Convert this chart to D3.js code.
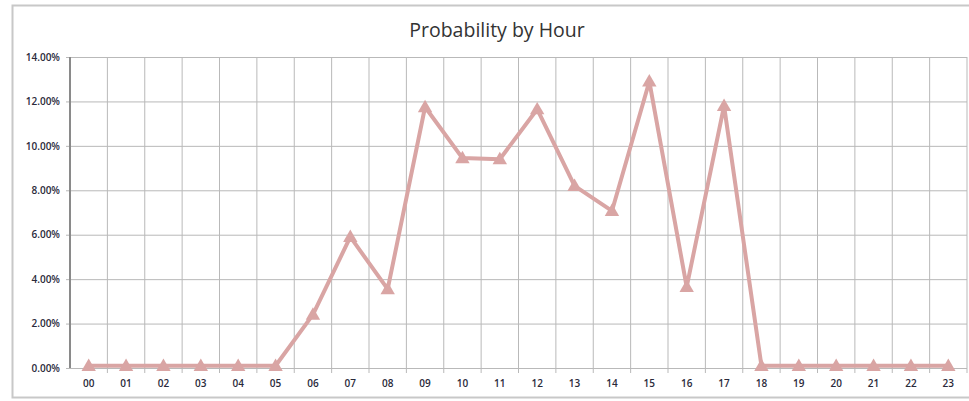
<!DOCTYPE html>
<html lang="en">
<head>
<meta charset="UTF-8">
<title>Probability by Hour</title>
<style>
html, body { margin: 0; padding: 0; background: #fff; }
#graph { width: 969px; height: 401px; }
.tick text { font-family: "Open Sans", "DejaVu Sans", sans-serif; font-size: 10px; font-weight: 600; fill: #2a2a3a; }
.valueLine { fill: none; stroke: #d9a5a4; stroke-width: 4; stroke-linejoin: round; }
.marker { fill: #d9a5a4; }
</style>
</head>
<body>
<div id="graph"></div>
<script src="https://d3js.org/d3.v7.min.js"></script>
<script>
// data
const hours = ["00","01","02","03","04","05","06","07","08","09","10","11",
               "12","13","14","15","16","17","18","19","20","21","22","23"];
const probability = [0.001,0.001,0.001,0.001,0.001,0.001,0.024,0.059,0.0355,0.1175,0.0945,0.094,
                     0.1165,0.082,0.0707,0.129,0.0365,0.118,0.001,0.001,0.001,0.001,0.001,0.001];
const yTicks = [0, 0.02, 0.04, 0.06, 0.08, 0.10, 0.12, 0.14];
const chartTitle = "Probability by Hour";

!(function(){
    const width = 969, height = 401;
    const margin = { top: 57, left: 70, bottom: 33, right: 2 };
    const chartWidth = width - margin.left - margin.right;
    const chartHeight = height - margin.top - margin.bottom;

    const svg = d3.select("#graph").append("svg")
        .attr("width", width).attr("height", height);

    // outer frame
    svg.append("rect")
        .attr("x", 12.5).attr("y", 5.5)
        .attr("width", 970).attr("height", 392)
        .attr("fill", "none").attr("stroke", "#c8c8c8").attr("stroke-width", 2);

    svg.append("text")
        .attr("x", 497).attr("y", 37)
        .attr("text-anchor", "middle")
        .attr("font-family", "'Open Sans', 'DejaVu Sans', sans-serif")
        .attr("font-size", 19.5)
        .attr("fill", "#333")
        .text(chartTitle);

    const chartLayer = svg.append("g")
        .attr("transform", `translate(${margin.left}, ${margin.top})`);

    const xScale = d3.scaleBand().domain(hours).range([0, chartWidth]);
    const yScale = d3.scaleLinear().domain([0, 0.14]).range([chartHeight, 0]);

    // horizontal gridlines + y axis labels
    const yAxis = d3.axisLeft(yScale)
        .tickValues(yTicks)
        .tickFormat(d3.format(".2%"))
        .tickSizeInner(-chartWidth - 4)
        .tickSizeOuter(0)
        .tickPadding(6);
    const yG = chartLayer.append("g")
        .attr("class", "axis y")
        .attr("transform", "translate(-4,0)")
        .call(yAxis);
    yG.select(".domain").remove();
    yG.selectAll(".tick line").attr("stroke", "#b9b9b9");
    yG.selectAll(".tick text").attr("x", -6);

    // vertical gridlines at category boundaries
    const bounds = hours.map(h => xScale(h)).concat([chartWidth]);
    chartLayer.append("g").selectAll("line")
        .data(bounds.slice(1))
        .join("line")
        .attr("x1", d => d).attr("x2", d => d)
        .attr("y1", 0).attr("y2", chartHeight + 5)
        .attr("stroke", "#b9b9b9");

    // x axis labels
    const xAxis = d3.axisBottom(xScale).tickSize(0).tickPadding(12);
    const xG = chartLayer.append("g")
        .attr("class", "axis x")
        .attr("transform", `translate(0, ${chartHeight})`)
        .call(xAxis);
    xG.select(".domain").remove();

    // y axis line
    chartLayer.append("line")
        .attr("x1", 0).attr("x2", 0)
        .attr("y1", 0).attr("y2", chartHeight)
        .attr("stroke", "#8a8a8a").attr("stroke-width", 2);

    const cx = d => xScale(d.h) + xScale.bandwidth() / 2;
    const pts = hours.map((h, i) => ({ h: h, v: probability[i] }));

    const lineGen = d3.line()
        .x(cx)
        .y(d => yScale(d.v));

    chartLayer.append("path")
        .datum(pts)
        .attr("class", "valueLine")
        .attr("d", lineGen);

    chartLayer.append("g").selectAll("path")
        .data(pts)
        .join("path")
        .attr("class", "marker")
        .attr("d", d3.symbol().type(d3.symbolTriangle).size(90))
        .attr("transform", d => `translate(${cx(d)}, ${yScale(d.v) + 1})`);
}());
</script>
</body>
</html>
